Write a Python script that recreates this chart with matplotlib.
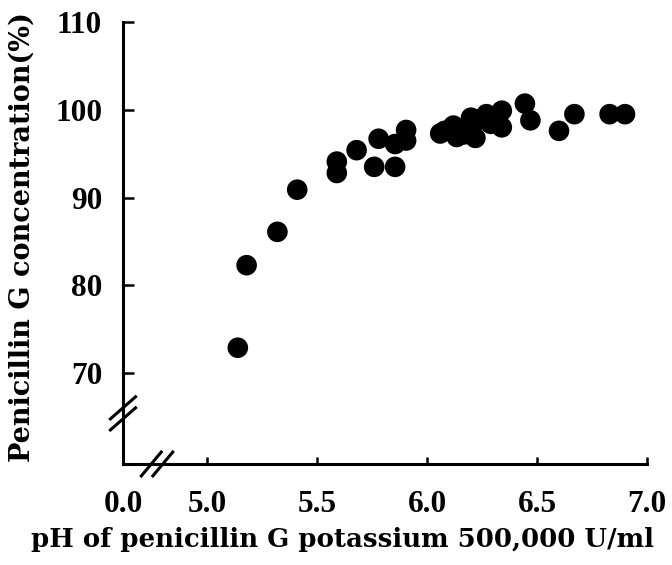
import matplotlib
matplotlib.use("Agg")
import matplotlib.pyplot as plt

# pH of penicillin G potassium solution vs remaining concentration
ph = [5.14, 5.18, 5.32, 5.41, 5.59, 5.59, 5.68, 5.76, 5.78, 5.855, 5.855,
      5.905, 5.905, 6.06, 6.08, 6.12, 6.135, 6.15, 6.17, 6.20, 6.21, 6.22,
      6.24, 6.27, 6.29, 6.30, 6.34, 6.34, 6.445, 6.47, 6.60, 6.67, 6.83, 6.90]
conc = [72.9, 82.3, 86.1, 90.9, 94.1, 92.8, 95.4, 93.5, 96.7, 93.5, 96.1,
        97.7, 96.5, 97.3, 97.6, 98.2, 96.9, 97.5, 97.2, 99.1, 98.6, 96.8,
        98.9, 99.5, 98.4, 99.2, 99.9, 98.0, 100.7, 98.8, 97.6, 99.5, 99.5, 99.5]

x_ticks = [5.0, 5.5, 6.0, 6.5, 7.0]
x_labels = ["5.0", "5.5", "6.0", "6.5", "7.0"]
y_ticks = [70, 80, 90, 100, 110]
y_labels = ["70", "80", "90", "100", "110"]

x_left = 4.618   # where the broken axis starts ("0.0")
y_bottom = 59.66

plt.rcParams["font.family"] = ["Liberation Serif", "DejaVu Serif"]
plt.rcParams["font.weight"] = "bold"

fig = plt.figure(figsize=(6.72, 5.65), dpi=100)
ax = fig.add_axes([0.183, 0.1788, 0.7798, 0.7823])

ax.scatter(ph, conc, s=220, color="black", edgecolors="none", zorder=3)

ax.set_xlim(x_left, 7.0)
ax.set_ylim(y_bottom, 110)

ax.set_xticks([x_left] + x_ticks)
ax.set_xticklabels(["0.0"] + x_labels, fontsize=22.5, fontweight="bold")
ax.set_yticks(y_ticks)
ax.set_yticklabels(y_labels, fontsize=22.5, fontweight="bold")
ax.xaxis.get_major_ticks()[0].tick1line.set_visible(False)

ax.tick_params(axis="x", direction="in", length=5, width=1.8, pad=19)
ax.tick_params(axis="y", direction="in", length=8, width=1.8, pad=15)

for side in ["top", "right"]:
    ax.spines[side].set_visible(False)
for side in ["left", "bottom"]:
    ax.spines[side].set_linewidth(2.2)

# break marks
kw = dict(transform=ax.transAxes, color="black", lw=2.2, clip_on=False)
yb = 0.115
for off in [0.012, -0.013]:
    ax.plot([-0.024, 0.024], [yb + off - 0.025, yb + off + 0.025], **kw)
xb = 0.065
for off in [-0.011, 0.011]:
    ax.plot([xb + off - 0.019, xb + off + 0.019], [-0.027, 0.027], **kw)

fig.text(22 / 672, 0.58, "Penicillin G concentration(%)", family="DejaVu Serif",
         fontsize=19.5, fontweight="bold", rotation=90, ha="center", va="center")
fig.text(0.046, 0.032, "pH of penicillin G potassium 500,000 U/ml",
         family="DejaVu Serif", fontsize=18.7, fontweight="bold",
         ha="left", va="baseline")

fig.savefig("out.png", dpi=100)
